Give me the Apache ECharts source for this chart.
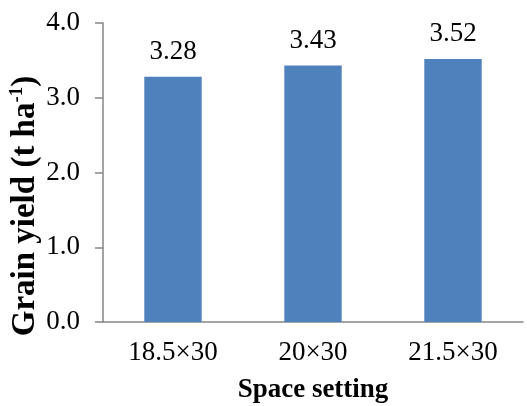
<!DOCTYPE html>
<html><head><meta charset="utf-8">
<script src="https://cdn.jsdelivr.net/npm/echarts@6/dist/echarts.min.js"></script>
<style>html,body{margin:0;padding:0;background:#fff}#c{width:527px;height:406px}</style>
</head><body><div id="c"></div>
<script>
var categories = ['18.5×30', '20×30', '21.5×30'];
var grainYield = [3.28, 3.43, 3.52];
var yTicks = [0, 1, 2, 3, 4];

var FONT = '"Liberation Serif","Times New Roman",serif';
var chart = echarts.init(document.getElementById('c'));
chart.setOption({
  animation: false,
  grid: {left: 103, right: 4, top: 23, bottom: 84, outerBoundsMode: 'none', containLabel: false},
  xAxis: {
    type: 'category', data: categories,
    axisLine: {lineStyle: {color: '#868686', width: 1.5}},
    axisTick: {show: false},
    axisLabel: {color: '#000', fontFamily: FONT, fontSize: 27, margin: 17},
    name: 'Space setting', nameLocation: 'middle', nameGap: 55,
    nameTextStyle: {color: '#000', fontFamily: FONT, fontSize: 27, fontWeight: 'bold'}
  },
  yAxis: {
    type: 'value', min: yTicks[0], max: yTicks[yTicks.length-1], interval: 1,
    axisLine: {show: true, lineStyle: {color: '#868686', width: 1.5}},
    axisTick: {show: true, length: 8, lineStyle: {color: '#868686', width: 1.5}},
    splitLine: {show: false},
    axisLabel: {color: '#000', fontFamily: FONT, fontSize: 27, margin: 23,
      formatter: function (v) { return v.toFixed(1); }}
  },
  graphic: [{
    type: 'text', x: 25, y: 206, rotation: Math.PI / 2,
    style: {
      text: '{b|Grain yield (t ha}{s|-1}{b|)}',
      align: 'center', verticalAlign: 'middle',
      rich: {
        b: {fontFamily: FONT, fontSize: 33, fontWeight: 'bold', fill: '#000'},
        s: {fontFamily: FONT, fontSize: 19, fontWeight: 'bold', fill: '#000', padding: [0, 0, 15, 0]}
      }
    }
  }],
  series: [{
    type: 'bar', data: grainYield, barWidth: '41%',
    itemStyle: {color: '#4F81BD'},
    label: {show: true, position: 'top', distance: 11, color: '#000', fontFamily: FONT, fontSize: 27,
      formatter: function (p) { return p.value.toFixed(2); }}
  }]
});
</script></body></html>
